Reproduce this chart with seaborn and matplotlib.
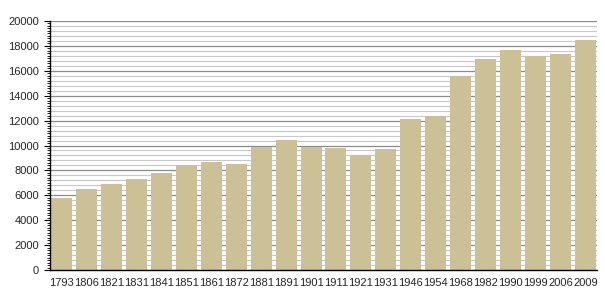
import matplotlib
matplotlib.use("Agg")
import matplotlib.pyplot as plt
import seaborn as sns
import pandas as pd
from matplotlib.ticker import MultipleLocator

years = ["1793", "1806", "1821", "1831", "1841", "1851", "1861", "1872", "1881", "1891",
         "1901", "1911", "1921", "1931", "1946", "1954", "1968", "1982", "1990", "1999",
         "2006", "2009"]
population = [5800, 6500, 6930, 7310, 7790, 8410, 8700, 8540, 9900, 10420,
              9900, 9820, 9210, 9720, 12150, 12390, 15610, 16950, 17640, 17210,
              17370, 18470]
y_ticks = [0, 2000, 4000, 6000, 8000, 10000, 12000, 14000, 16000, 18000, 20000]

df = pd.DataFrame({"year": years, "pop": population})

sns.set_style("white")
plt.rcParams['font.family'] = ['Liberation Sans', 'DejaVu Sans']

fig = plt.figure(figsize=(6.05, 3.0), dpi=100)
ax = fig.add_axes([50/605, 30/300, 547/605, 249/300])

# grid lines
for v in range(0, 20001, 400):
    if v % 2000 == 0:
        ax.axhline(v, color="#8c8c8c", lw=0.9, zorder=0)
    else:
        ax.axhline(v, color="#c8c8c8", lw=0.8, zorder=0)

sns.barplot(data=df, x="year", y="pop", color="#cbc096", saturation=1,
            width=0.84, linewidth=0, ax=ax, zorder=2)

ax.set_xlim(-0.46, len(years) - 0.54)
ax.set_ylim(0, 20000)
ax.set_yticks(y_ticks)
ax.yaxis.set_minor_locator(MultipleLocator(200))
ax.set_xlabel("")
ax.set_ylabel("")
for s in ["top", "right"]:
    ax.spines[s].set_visible(False)
ax.spines["left"].set_color("black")
ax.spines["bottom"].set_color("black")
ax.spines["left"].set_linewidth(1.0)
ax.spines["bottom"].set_linewidth(1.0)
ax.tick_params(axis="y", which="major", left=True, length=4, width=0.8, labelsize=8, pad=4, color="black")
ax.tick_params(axis="y", which="minor", left=True, length=2, width=0.6, color="black")
ax.tick_params(axis="x", bottom=False, labelsize=8, pad=2)

fig.savefig("out.png", dpi=100)
